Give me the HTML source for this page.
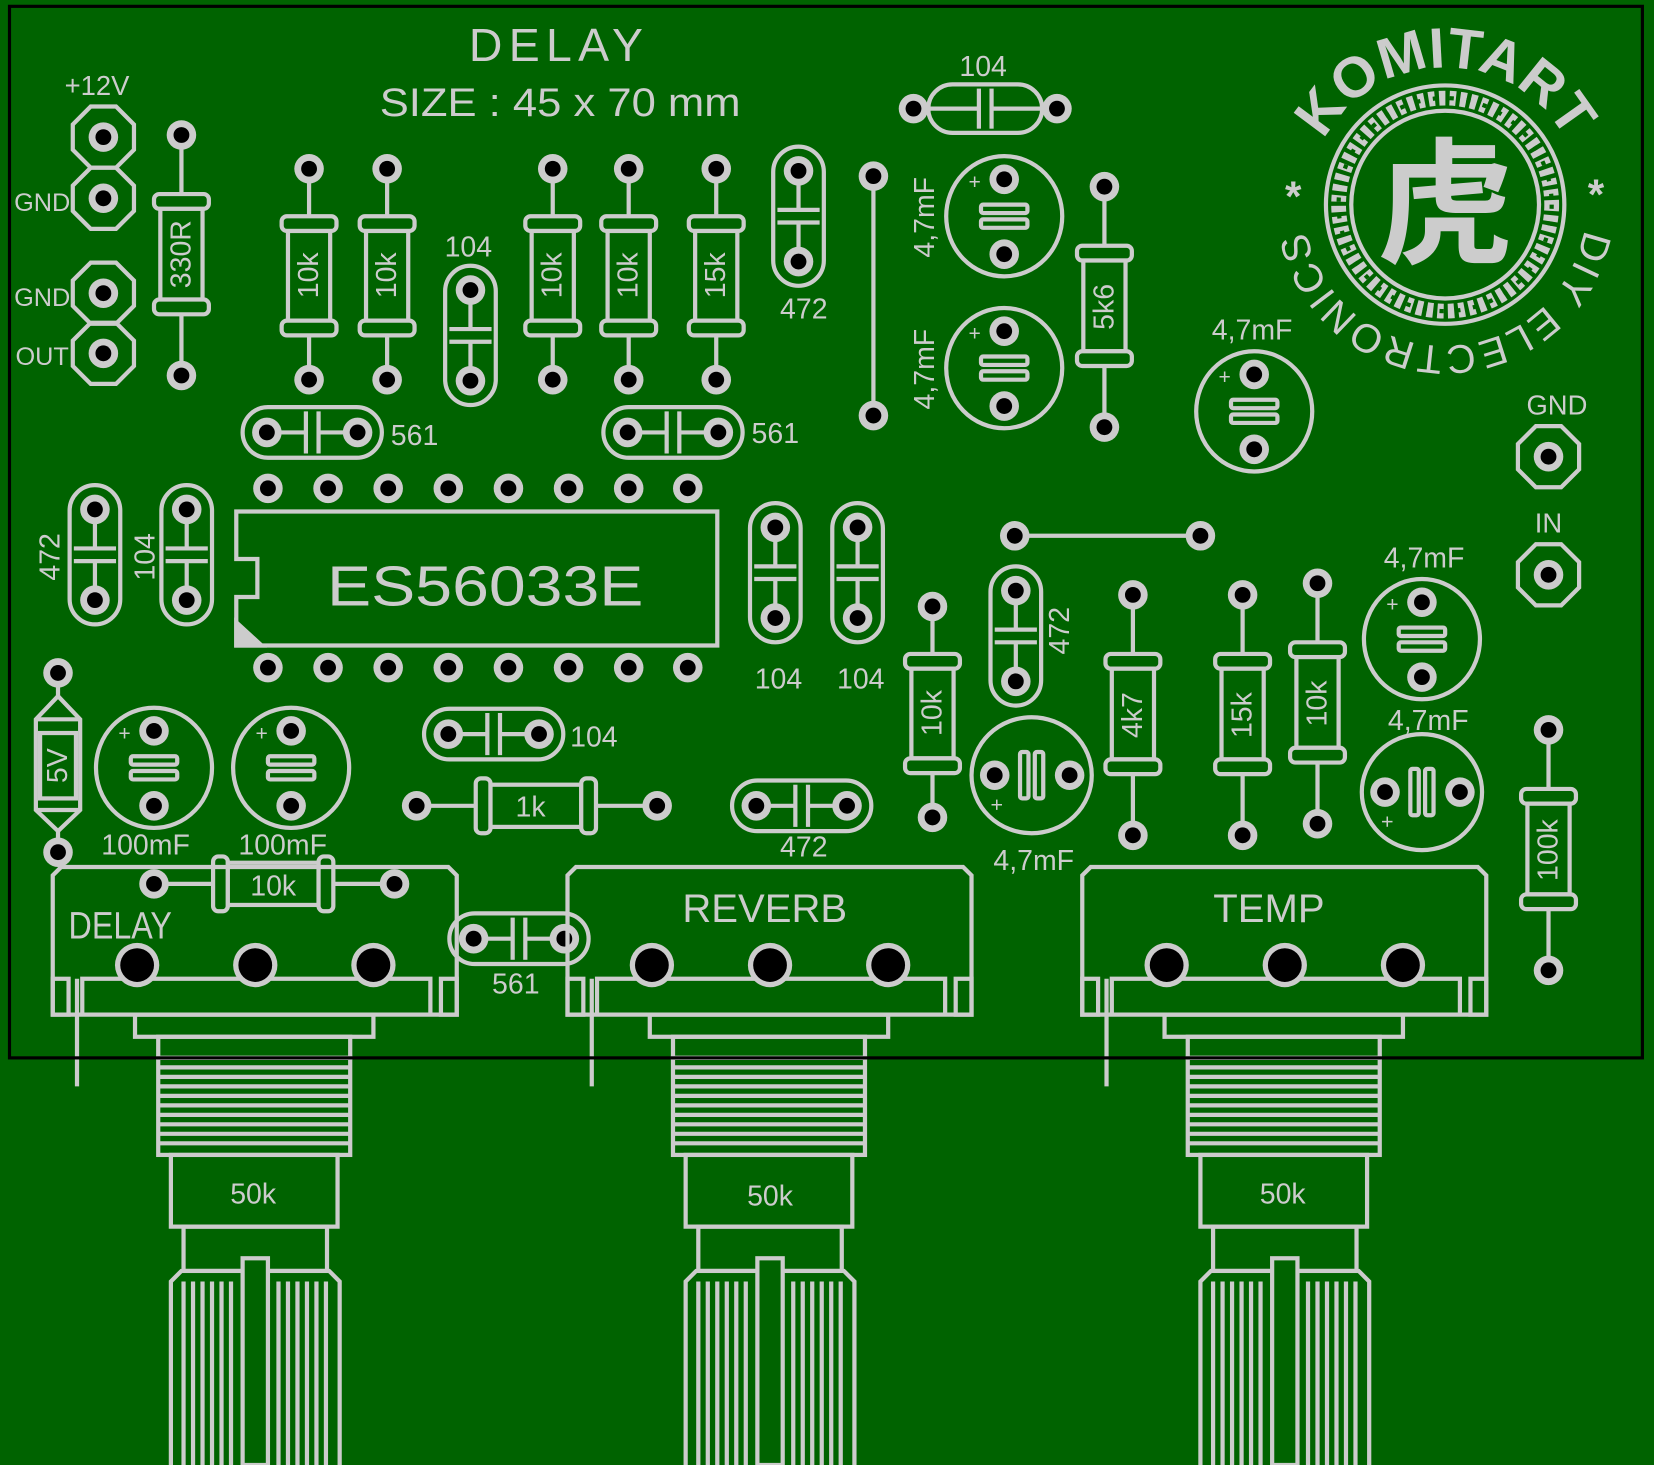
<!DOCTYPE html>
<html><head><meta charset="utf-8"><style>
html,body{margin:0;padding:0;background:#006300;}
svg{display:block}
text{font-family:"Liberation Sans","Noto Sans CJK SC",sans-serif;fill:#cccccc;stroke:none}
</style></head><body>
<svg width="1654" height="1465" viewBox="0 0 1568 1389" preserveAspectRatio="none" xmlns="http://www.w3.org/2000/svg">
<defs>
<g id="pad"><circle r="14" fill="#cccccc" stroke="none"/><circle r="7.5" fill="#000" stroke="none"/></g>
<g id="R200"><line x1="0" y1="0" x2="0" y2="200"/><rect x="-26" y="45" width="52" height="14" rx="5" fill="#006300"/><rect x="-20" y="59" width="40" height="85" fill="#006300"/><rect x="-26" y="144" width="52" height="14" rx="5" fill="#006300"/><use href="#pad"/><use href="#pad" y="200"/></g>
<g id="R228"><line x1="0" y1="0" x2="0" y2="228"/><rect x="-26" y="56" width="52" height="14" rx="5" fill="#006300"/><rect x="-20" y="70" width="40" height="86" fill="#006300"/><rect x="-26" y="156" width="52" height="14" rx="5" fill="#006300"/><use href="#pad"/><use href="#pad" y="228"/></g>
<g id="C"><rect x="-24" y="-23" width="48" height="132" rx="24"/><line x1="0" y1="0" x2="0" y2="37"/><line x1="0" y1="49" x2="0" y2="86"/><line x1="-20" y1="37" x2="20" y2="37"/><line x1="-20" y1="49" x2="20" y2="49"/><use href="#pad"/><use href="#pad" y="86"/></g>
<g id="E"><ellipse rx="55" ry="57"/><rect x="-22" y="-11" width="44" height="8" rx="2"/><rect x="-22" y="3" width="44" height="8" rx="2"/><use href="#pad" y="-35"/><use href="#pad" y="36"/><text x="-28" y="-26" font-size="20" text-anchor="middle">+</text></g>
<g id="O"><polygon points="12,-29 29,-12 29,12 12,29 -12,29 -29,12 -29,-12 -12,-29"/><use href="#pad"/></g>
<g id="POT">
<path d="M-80,-85 L-72,-93 L295,-93 L303,-85 L303,47 L-80,47 Z"/>
<path d="M-52,47 V13 H278 V47"/>
<rect x="-80" y="13" width="15" height="34"/><rect x="288" y="13" width="15" height="34"/>
<line x1="-57" y1="13" x2="-57" y2="115"/>
<circle r="21" fill="#cccccc" stroke="none"/><circle r="16" fill="#000" stroke="none"/>
<circle cx="112" r="21" fill="#cccccc" stroke="none"/><circle cx="112" r="16" fill="#000" stroke="none"/>
<circle cx="224" r="21" fill="#cccccc" stroke="none"/><circle cx="224" r="16" fill="#000" stroke="none"/>
<rect x="-2" y="47" width="226" height="21"/>
<rect x="20" y="68" width="182" height="20"/>
<rect x="20" y="88" width="182" height="92"/>
<path d="M20,97H202M20,106H202M20,115H202M20,124H202M20,133H202M20,142H202M20,151H202M20,160H202M20,169H202"/>
<rect x="32" y="180" width="158" height="68"/>
<rect x="44" y="248" width="136" height="42"/>
<path d="M32,474 V300 L42,290 H182 L192,300 V474"/>
<path d="M44,300V474M53,300V474M62,300V474M71,300V474M80,300V474M89,300V474M134,300V474M143,300V474M152,300V474M161,300V474M170,300V474M179,300V474"/>
<rect x="100" y="278" width="24" height="196" fill="#006300"/>
</g>
<path id="arcTop" d="M1240,194 A130,130 0 0 1 1500,194"/>
<path id="arcBot" d="M1504,194 A134,134 0 0 1 1236,194"/>
</defs>
<rect x="0" y="0" width="1568" height="1389" fill="#006300"/>
<g stroke="#cccccc" stroke-width="4" fill="none">
<use href="#O" x="98" y="130"/><use href="#O" x="98" y="188"/>
<use href="#O" x="98" y="278"/><use href="#O" x="98" y="335"/>
<use href="#O" x="1468" y="433"/><use href="#O" x="1468" y="545"/>
<use href="#R228" x="172" y="128"/>
<use href="#R200" x="293" y="160"/><use href="#R200" x="367" y="160"/>
<use href="#R200" x="524" y="160"/><use href="#R200" x="596" y="160"/><use href="#R200" x="679" y="160"/>
<use href="#R228" x="1047" y="177"/>
<use href="#R200" x="884" y="575"/>
<use href="#R228" x="1074" y="564"/><use href="#R228" x="1178" y="564"/><use href="#R228" x="1249" y="553"/>
<use href="#R228" x="1468" y="692"/>
<g transform="translate(395,764) rotate(-90)"><use href="#R228"/></g>
<g transform="translate(146,838) rotate(-90)"><use href="#R228"/></g>
<use href="#C" x="446" y="275"/><use href="#C" x="757" y="162"/>
<use href="#C" x="90" y="483"/><use href="#C" x="177" y="483"/>
<use href="#C" x="735" y="500"/><use href="#C" x="813" y="500"/>
<use href="#C" x="963" y="560"/>
<g transform="translate(253,410) rotate(-90)"><use href="#C"/></g>
<g transform="translate(595,410) rotate(-90)"><use href="#C"/></g>
<g transform="translate(425,696) rotate(-90)"><use href="#C"/></g>
<g transform="translate(717,764) rotate(-90)"><use href="#C"/></g>
<g transform="translate(449,890) rotate(-90)"><use href="#C"/></g>
<rect x="880" y="80" width="108" height="46" rx="23"/>
<line x1="866" y1="103" x2="928" y2="103"/><line x1="940" y1="103" x2="1002" y2="103"/>
<line x1="928" y1="84" x2="928" y2="122"/><line x1="940" y1="84" x2="940" y2="122"/>
<use href="#pad" x="866" y="103"/><use href="#pad" x="1002" y="103"/>
<line x1="828" y1="167" x2="828" y2="394"/><use href="#pad" x="828" y="167"/><use href="#pad" x="828" y="394"/>
<line x1="962" y1="508" x2="1138" y2="508"/><use href="#pad" x="962" y="508"/><use href="#pad" x="1138" y="508"/>
<use href="#E" x="952" y="205"/><use href="#E" x="952" y="349"/><use href="#E" x="1189" y="390"/>
<use href="#E" x="1348" y="606"/>
<use href="#E" x="146" y="728"/><use href="#E" x="276" y="728"/>
<g transform="translate(978,735) rotate(-90)"><use href="#E"/></g>
<g transform="translate(1348,751) rotate(-90)"><use href="#E"/></g>
<line x1="55" y1="638" x2="55" y2="808"/>
<path d="M55,660 L76,682 V768 L55,788 L34,768 V682 Z" fill="#006300"/>
<line x1="34" y1="682" x2="76" y2="682"/><line x1="34" y1="768" x2="76" y2="768"/>
<rect x="38" y="695" width="34" height="62" fill="#006300"/>
<use href="#pad" x="55" y="638"/><use href="#pad" x="55" y="808"/>
<path d="M224,485 H680 V612 H224 V566 H244 V530 H224 Z"/>
<path d="M224,590 L224,612 L248,612 Z" fill="#cccccc"/>
<use href="#pad" x="254" y="463"/><use href="#pad" x="311" y="463"/><use href="#pad" x="368" y="463"/><use href="#pad" x="425" y="463"/><use href="#pad" x="482" y="463"/><use href="#pad" x="539" y="463"/><use href="#pad" x="596" y="463"/><use href="#pad" x="652" y="463"/>
<use href="#pad" x="254" y="633"/><use href="#pad" x="311" y="633"/><use href="#pad" x="368" y="633"/><use href="#pad" x="425" y="633"/><use href="#pad" x="482" y="633"/><use href="#pad" x="539" y="633"/><use href="#pad" x="596" y="633"/><use href="#pad" x="652" y="633"/>
<use href="#POT" x="130" y="915"/><use href="#POT" x="618" y="915"/><use href="#POT" x="1106" y="915"/>
<circle cx="1370" cy="194" r="113"/>
<circle cx="1370" cy="194" r="89"/>
<circle cx="1370" cy="194" r="101" stroke-width="14" stroke-dasharray="6 4"/>
<circle cx="1370" cy="194" r="101" stroke="#006300" stroke-width="4" stroke-dasharray="4 12"/>
</g>
<text x="1370" y="240" font-size="130" text-anchor="middle" font-family="Noto Sans CJK SC, sans-serif" font-weight="bold">虎</text>
<text font-size="54" font-weight="bold"><textPath href="#arcTop" startOffset="50%" text-anchor="middle">KOMITART</textPath></text>
<text font-size="38"><textPath href="#arcBot" startOffset="50%" text-anchor="middle" letter-spacing="2">DIY ELECTRONICS</textPath></text>
<text x="1226" y="200" font-size="40" font-weight="bold" text-anchor="middle">*</text>
<text x="1513" y="198" font-size="40" font-weight="bold" text-anchor="middle">*</text>
<text x="527" y="58" font-size="44" text-anchor="middle" textLength="165">DELAY</text>
<text x="531" y="110" font-size="38" text-anchor="middle" textLength="342" lengthAdjust="spacingAndGlyphs">SIZE : 45 x 70 mm</text>
<text x="92" y="90" font-size="26" text-anchor="middle">+12V</text>
<text x="40" y="200" font-size="24" text-anchor="middle">GND</text>
<text x="40" y="290" font-size="24" text-anchor="middle">GND</text>
<text x="40" y="346" font-size="24" text-anchor="middle">OUT</text>
<text x="1476" y="393" font-size="26" text-anchor="middle">GND</text>
<text x="1468" y="505" font-size="26" text-anchor="middle">IN</text>
<g font-size="27" text-anchor="middle">
<text transform="translate(172,241) rotate(-90)" dominant-baseline="central">330R</text>
<text transform="translate(293,261) rotate(-90)" dominant-baseline="central">10k</text>
<text transform="translate(367,261) rotate(-90)" dominant-baseline="central">10k</text>
<text transform="translate(524,261) rotate(-90)" dominant-baseline="central">10k</text>
<text transform="translate(596,261) rotate(-90)" dominant-baseline="central">10k</text>
<text transform="translate(679,261) rotate(-90)" dominant-baseline="central">15k</text>
<text transform="translate(1047,291) rotate(-90)" dominant-baseline="central">5k6</text>
<text transform="translate(884,676) rotate(-90)" dominant-baseline="central">10k</text>
<text transform="translate(1074,678) rotate(-90)" dominant-baseline="central">4k7</text>
<text transform="translate(1178,678) rotate(-90)" dominant-baseline="central">15k</text>
<text transform="translate(1249,667) rotate(-90)" dominant-baseline="central">10k</text>
<text transform="translate(1468,806) rotate(-90)" dominant-baseline="central">100k</text>
<text transform="translate(55,726) rotate(-90)" dominant-baseline="central">5V</text>
<text transform="translate(48,528) rotate(-90)" dominant-baseline="central">472</text>
<text transform="translate(138,528) rotate(-90)" dominant-baseline="central">104</text>
<text transform="translate(1005,598) rotate(-90)" dominant-baseline="central">472</text>
<text transform="translate(877,206) rotate(-90)" dominant-baseline="central">4,7mF</text>
<text transform="translate(877,350) rotate(-90)" dominant-baseline="central">4,7mF</text>
<text x="503" y="774">1k</text>
<text x="259" y="849">10k</text>
<text x="444" y="243">104</text>
<text x="762" y="302">472</text>
<text x="932" y="72">104</text>
<text x="1187" y="322">4,7mF</text>
<text x="393" y="422">561</text>
<text x="735" y="420">561</text>
<text x="738" y="653">104</text>
<text x="816" y="653">104</text>
<text x="563" y="708">104</text>
<text x="762" y="812">472</text>
<text x="489" y="942">561</text>
<text x="980" y="825">4,7mF</text>
<text x="1350" y="538">4,7mF</text>
<text x="1354" y="692">4,7mF</text>
<text x="138" y="810">100mF</text>
<text x="268" y="810">100mF</text>
<text x="240" y="1141">50k</text>
<text x="730" y="1143">50k</text>
<text x="1216" y="1141">50k</text>
</g>
<text x="460" y="574" font-size="54" text-anchor="middle" textLength="300" lengthAdjust="spacingAndGlyphs">ES56033E</text>
<text x="114" y="890" font-size="36" text-anchor="middle" transform="translate(114,877) scale(0.85,1) translate(-114,-877)">DELAY</text>
<text x="725" y="874" font-size="38" text-anchor="middle">REVERB</text>
<text x="1203" y="874" font-size="38" text-anchor="middle">TEMP</text>
<rect x="9" y="6" width="1548" height="997" fill="none" stroke="#000" stroke-width="3"/>
</svg>
</body></html>
